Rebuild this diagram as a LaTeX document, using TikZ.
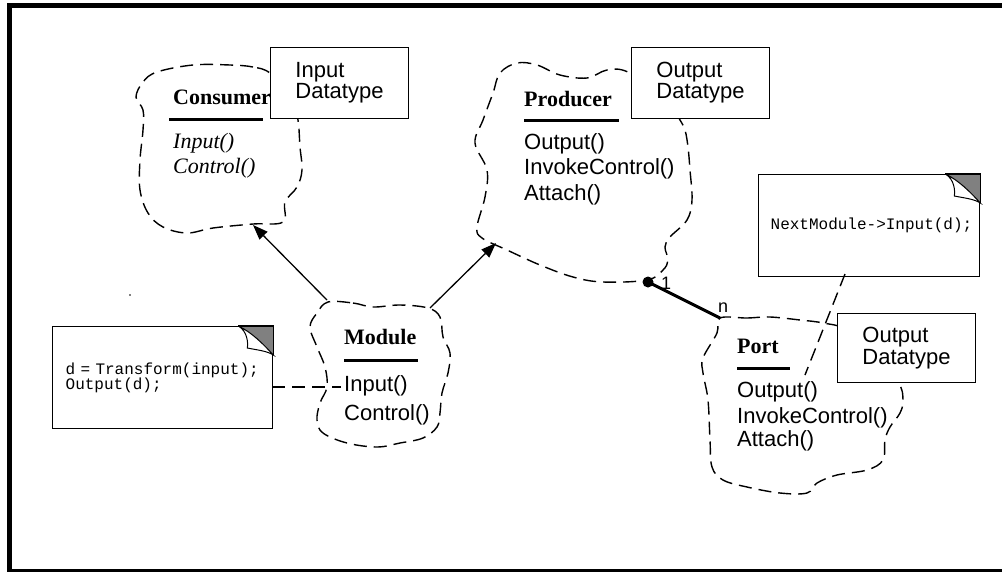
\documentclass[tikz,border=0pt]{standalone}
\usepackage{fontspec}
\setmainfont{Liberation Serif}
\setsansfont{Liberation Sans}
\setmonofont{Liberation Mono}
\usetikzlibrary{arrows.meta}

\tikzset{
  cloudline/.style={line width=1.4pt, dash pattern=on 13pt off 7pt, line join=round},
  link/.style={line width=1.4pt, dash pattern=on 13pt off 7pt},
  gen/.style={line width=1.3pt, -{Triangle[length=15pt,width=11pt]}},
  classname/.style={anchor=base west, inner sep=0pt, font=\fontsize{22}{24}\selectfont\bfseries},
  op/.style={anchor=base west, inner sep=0pt, font=\fontsize{22}{24}\selectfont\sffamily},
  absop/.style={anchor=base west, inner sep=0pt, font=\fontsize{22}{24}\selectfont\itshape},
  dtbox/.style={draw, fill=white, line width=0.9pt, anchor=north west,
    minimum width=138pt, minimum height=71pt, text width=88pt, inner xsep=22pt, inner ysep=0pt,
    align=left, font=\fontsize{22}{21}\selectfont\sffamily},
  bar/.style={line width=3pt},
  note/.style={draw, fill=white, line width=1.3pt, anchor=north west,
    minimum height=102pt, inner ysep=0pt, align=left,
    font=\fontsize{16}{15.5}\selectfont\ttfamily},
  mult/.style={inner sep=0pt, font=\fontsize{18}{20}\selectfont\sffamily},
  fold/.pic={
    \fill[black!50] (-35,0) -- (0,0) -- (0,29) .. controls (-10,18) and (-22,6) .. (-35,0);
    \draw[fill=white, line width=1pt] (-35,0) .. controls (-26,5) and (-25,17) .. (-26,22)
      .. controls (-16,24) and (-6,25) .. (0,29) .. controls (-10,18) and (-22,6) .. (-35,0) -- cycle;
    \draw[line width=1.3pt] (-35,0) -- (0,0) -- (0,29);
  }
}

\begin{document}
\begin{tikzpicture}[x=1pt,y=-1pt]
\useasboundingbox (0,0) rectangle (1002,571);
\clip (0,0) rectangle (1002,571);
\fill[white] (0,0) rectangle (1002,571);

% outer frame
\draw[line width=5pt] (9.5,5.8) rectangle (1010,571.5);

% ---- Consumer ----
\draw[cloudline] plot[smooth cycle, tension=0.6] coordinates {
  (270,73) (253,67) (230,65) (193,65) (157,72) (143,82) (136,97) (143,110)
  (143,130) (140,160) (140,190) (148,213) (163,227) (187,233) (213,228)
  (253,224) (283,222) (285,202) (297,187) (302,170) (300,147) (298,120) (292,95)};
\node[classname] (cons) at (173,104) {Consumer};
\draw[bar] (169,119) -- (263,119);
\node[absop] (cons-in) at (173,148) {Input()};
\node[absop] (cons-ctl) at (173,173) {Control()};
\node[dtbox] (cons-dt) at (270,47) {Input\\Datatype};
\coordinate (cons-bot) at (253,225);

% ---- Producer ----
\draw[cloudline] plot[smooth cycle, tension=0.6] coordinates {
  (628,72) (607,70) (587,78) (560,75) (537,65) (517,63) (500,73) (493,93)
  (483,120) (475,143) (487,170) (485,197) (477,227) (482,238) (507,250)
  (540,265) (573,277) (603,282) (647,280) (663,270) (668,260) (665,247)
  (670,237) (687,220) (692,200) (690,170) (688,147) (685,130) (680,120) (665,95)};
\node[classname] (prod) at (524,106) {Producer};
\draw[bar] (524,120) -- (619,120);
\node[op] (prod-out) at (524,149) {Output()};
\node[op] (prod-inv) at (524,174) {InvokeControl()};
\node[op] (prod-att) at (524,200) {Attach()};
\node[dtbox] (prod-dt) at (631,47) {Output\\Datatype};
\coordinate (prod-bot) at (496,243);
\coordinate (prod-port) at (648,282);

% ---- Module ----
\draw[cloudline] plot[smooth cycle, tension=0.6] coordinates {
  (328,302) (353,303) (373,307) (400,305) (428,308) (440,317) (443,337)
  (450,353) (448,373) (442,393) (440,413) (437,427) (423,438) (400,443)
  (377,447) (347,443) (323,433) (317,420) (320,403) (327,387) (325,367)
  (317,347) (310,327) (317,313)};
\node[classname] (mod) at (344,344) {Module};
\draw[bar] (344,360) -- (418,360);
\node[op] (mod-in) at (344,391) {Input()};
\node[op] (mod-ctl) at (344,420) {Control()};
\coordinate (mod-left) at (327,300);
\coordinate (mod-right) at (430,308);
\coordinate (mod-note) at (341,387);

% ---- Port ----
\draw[cloudline] plot[smooth cycle, tension=0.6] coordinates {
  (720,318) (747,318) (770,317) (800,320) (823,323) (845,330) (870,360)
  (898,383) (903,400) (900,413) (890,427) (885,440) (883,460) (867,470)
  (837,475) (817,483) (807,493) (780,493) (747,487) (723,480) (712,467)
  (710,440) (708,400) (703,373) (703,358) (717,333)};
\node[classname] (port) at (737,353) {Port};
\draw[bar] (737,368) -- (790,368);
\node[op] (port-out) at (737,397) {Output()};
\node[op] (port-inv) at (737,423) {InvokeControl()};
\node[op] (port-att) at (737,446) {Attach()};
\node[dtbox, minimum height=69pt, font=\fontsize{22}{22}\selectfont\sffamily] (port-dt) at (837,313) {Output\\Datatype};
\coordinate (port-top) at (720,318);
\coordinate (port-note) at (805,375);

% ---- notes ----
\node[note, minimum width=220pt, text width=194pt, inner xsep=13pt] (xform) at (52,326)
  {\hbox{d = Transform(input);}\\\hbox{Output(d);}};
\pic at (xform.north east) {fold};
\coordinate (xform-link) at (272,387);

\node[note, minimum width=221pt, text width=197pt, inner xsep=12pt] (next) at (758,174)
  {\hbox{NextModule->Input(d);}};
\pic at (next.north east) {fold};
\coordinate (next-link) at (845,274);

% ---- connectors ----
\draw[gen] (mod-left) -- (cons-bot);
\draw[gen] (mod-right) -- (prod-bot);
\draw[link] (xform-link) -- (mod-note);
\draw[link] (next-link) -- (port-note);
\draw[line width=3pt] (prod-port) -- (port-top);
\fill (prod-port) circle (5.5pt);
\node[mult] (one) at (666,283) {1};
\node[mult] (many) at (723,308) {n};

% small mark
\fill (130,295) circle (0.9pt);
\end{tikzpicture}
\end{document}
